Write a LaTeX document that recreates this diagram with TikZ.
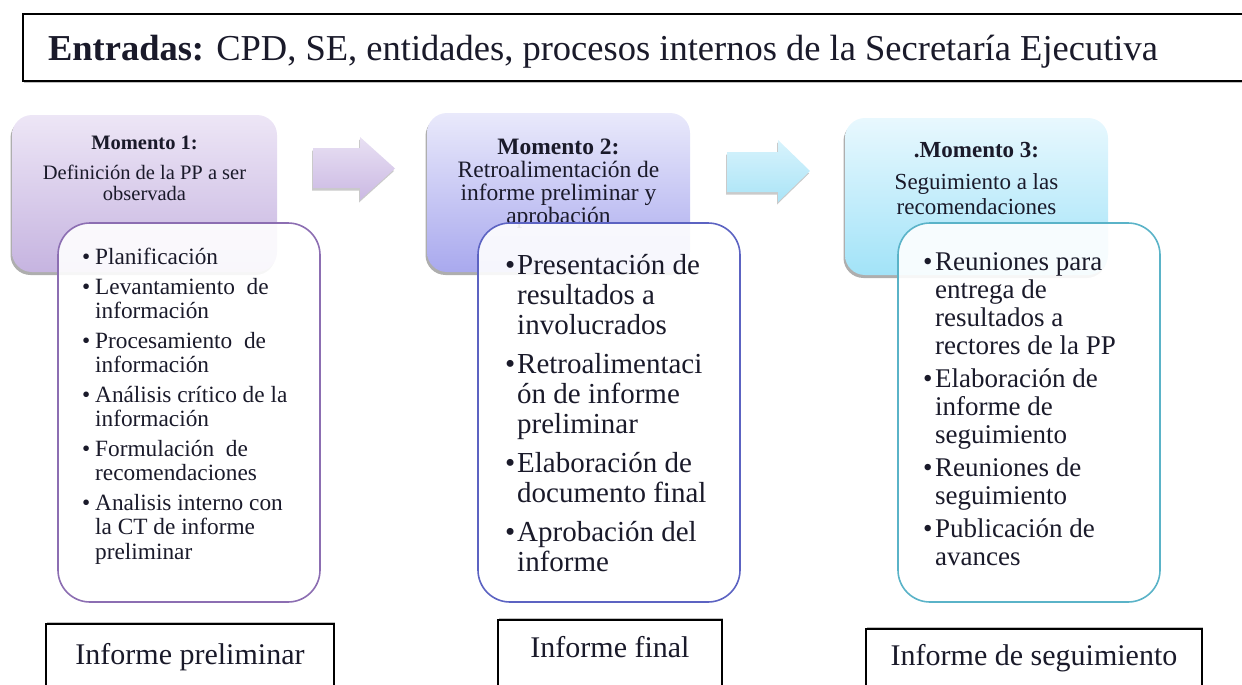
\documentclass[tikz,border=0pt]{standalone}
\usepackage{fontspec}
\setmainfont{Liberation Serif}
\usetikzlibrary{shadows}
\definecolor{pA}{HTML}{EDE6F6}
\definecolor{pB}{HTML}{C6B4E0}
\definecolor{bA}{HTML}{E9E9FB}
\definecolor{bB}{HTML}{A9A9EE}
\definecolor{cA}{HTML}{E8F8FE}
\definecolor{cB}{HTML}{A2E3F8}
\definecolor{pL}{HTML}{8C6EB2}
\definecolor{bL}{HTML}{5C63C2}
\definecolor{cL}{HTML}{5AB3C8}
\definecolor{apA}{HTML}{E8E0F3}
\definecolor{apB}{HTML}{CBB9E3}
\definecolor{acA}{HTML}{D8F3FC}
\definecolor{acB}{HTML}{AAE4F7}
\definecolor{txt}{HTML}{1A1A2A}
\newcommand{\bul}[1]{\makebox[#1][l]{\textbullet}}
\begin{document}
\begin{tikzpicture}[x=1pt,y=-1pt,
  hdr/.style={rounded corners=20pt, draw=none,
    drop shadow={shadow xshift=-1.5pt, shadow yshift=-3pt, opacity=0.45, fill=black!70}},
  sub/.style={rounded corners=32pt, line width=1.6pt, fill=white, fill opacity=0.9, draw opacity=1},
  htext/.style={anchor=base, text=txt, inner sep=0pt},
  ltext/.style={anchor=base west, text=txt, inner sep=0pt},
  blk/.style={draw=none, drop shadow={shadow xshift=-1pt, shadow yshift=-2.5pt, opacity=0.35, fill=black!60}},
  outbox/.style={draw=black, line width=1.8pt, fill=white, anchor=north, text=txt,
    font=\fontsize{30}{32}\selectfont, text height=20pt, text depth=20pt,
    drop shadow={shadow xshift=1pt, shadow yshift=1.5pt, opacity=0.5, fill=black!50}}
]
\useasboundingbox (0,0) rectangle (1242,685);
\clip (0,0) rectangle (1242,685);

% top entry box
\node[draw=black, line width=1.8pt, fill=white, text=txt,
  drop shadow={shadow xshift=1pt, shadow yshift=-1.5pt, opacity=0.5, fill=black!50},
  text width=1190pt, align=flush left, inner xsep=25pt, inner ysep=0pt,
  minimum height=67pt, text height=26pt, text depth=0pt,
  font=\fontsize{36.5}{40}\selectfont] (entradas) at (643,47.5)
  {\textbf{Entradas:} CPD, SE, entidades, procesos internos de la Secretaría Ejecutiva};

% ---------- Momento 1 ----------
\node[hdr, top color=pA, bottom color=pB, minimum width=265pt, minimum height=157pt] (m1) at (144.5,193.5) {};
\node[htext, font=\fontsize{20.5}{21}\selectfont] (m1t) at (144.5,149)
  {\begin{tabular}[t]{@{}c@{}}\textbf{Momento 1:}\\[9.5pt] Definición de la PP a ser\\ observada\end{tabular}};
\node[sub, draw=pL, minimum width=262pt, minimum height=379pt] (s1) at (189,412.5) {};
\node[ltext, font=\fontsize{23.3}{24.5}\selectfont] (s1t) at (82,264.5)
  {\begin{tabular}[t]{@{}l@{}l@{}}
   \bul{13pt} & Planificación\\[5pt]
   \bul{13pt} & Levantamiento\ \ de\\
              & información\\[5pt]
   \bul{13pt} & Procesamiento\ \ de\\
              & información\\[5pt]
   \bul{13pt} & Análisis\ crítico de la\\
              & información\\[5pt]
   \bul{13pt} & Formulación\ \ de\\
              & recomendaciones\\[5pt]
   \bul{13pt} & Analisis\ interno con\\
              & la CT de informe\\
              & preliminar
  \end{tabular}};

% arrow 1
\path[blk, top color=apA, bottom color=apB]
  (313,148) -- (360,148) -- (360,137) -- (395,168.5) -- (360,200) -- (360,188) -- (313,188) -- cycle;

% ---------- Momento 2 ----------
\node[hdr, top color=bA, bottom color=bB, minimum width=263pt, minimum height=159pt] (m2) at (558.5,192.5) {};
\node[htext, font=\fontsize{23.5}{23}\selectfont] (m2t) at (558.5,154)
  {\begin{tabular}[t]{@{}c@{}}\textbf{Momento 2:}\\ Retroalimentación de\\ informe preliminar y\\ aprobación\end{tabular}};
\node[sub, draw=bL, minimum width=262pt, minimum height=379pt] (s2) at (609,412.5) {};
\node[ltext, font=\fontsize{29}{30}\selectfont] (s2t) at (505,274)
  {\begin{tabular}[t]{@{}l@{}l@{}}
   \bul{12pt} & Presentación de\\
              & resultados a\\
              & involucrados\\[9pt]
   \bul{12pt} & Retroalimentaci\\
              & ón de informe\\
              & preliminar\\[9pt]
   \bul{12pt} & Elaboración de\\
              & documento final\\[9pt]
   \bul{12pt} & Aprobación del\\
              & informe
  \end{tabular}};

% arrow 2
\path[blk, top color=acA, bottom color=acB]
  (727,152) -- (778,152) -- (778,140) -- (810,171) -- (778,202) -- (778,192) -- (727,192) -- cycle;

% ---------- Momento 3 ----------
\node[hdr, top color=cA, bottom color=cB, minimum width=263pt, minimum height=157pt] (m3) at (976.5,196.5) {};
\node[htext, font=\fontsize{23}{25}\selectfont] (m3t) at (976.5,157)
  {\begin{tabular}[t]{@{}c@{}}\textbf{.Momento 3:}\\[7pt] Seguimiento\ a las\\ recomendaciones\end{tabular}};
\node[sub, draw=cL, minimum width=262pt, minimum height=379pt] (s3) at (1029,412.5) {};
\node[ltext, font=\fontsize{27}{28}\selectfont] (s3t) at (923,270.5)
  {\begin{tabular}[t]{@{}l@{}l@{}}
   \bul{12pt} & Reuniones\ para\\
              & entrega de\\
              & resultados a\\
              & rectores de la PP\\[5pt]
   \bul{12pt} & Elaboración de\\
              & informe\ de\\
              & seguimiento\\[5pt]
   \bul{12pt} & Reuniones\ de\\
              & seguimiento\\[5pt]
   \bul{12pt} & Publicación de\\
              & avances
  \end{tabular}};

% ---------- outputs ----------
\node[outbox, minimum width=288pt, inner ysep=21pt] (o1) at (190,623) {Informe preliminar};
\node[outbox, minimum width=224pt, inner ysep=18pt] (o2) at (610,619) {Informe final};
\node[outbox, minimum width=336pt, inner ysep=17pt] (o3) at (1034,628) {Informe de seguimiento};
\end{tikzpicture}
\end{document}
